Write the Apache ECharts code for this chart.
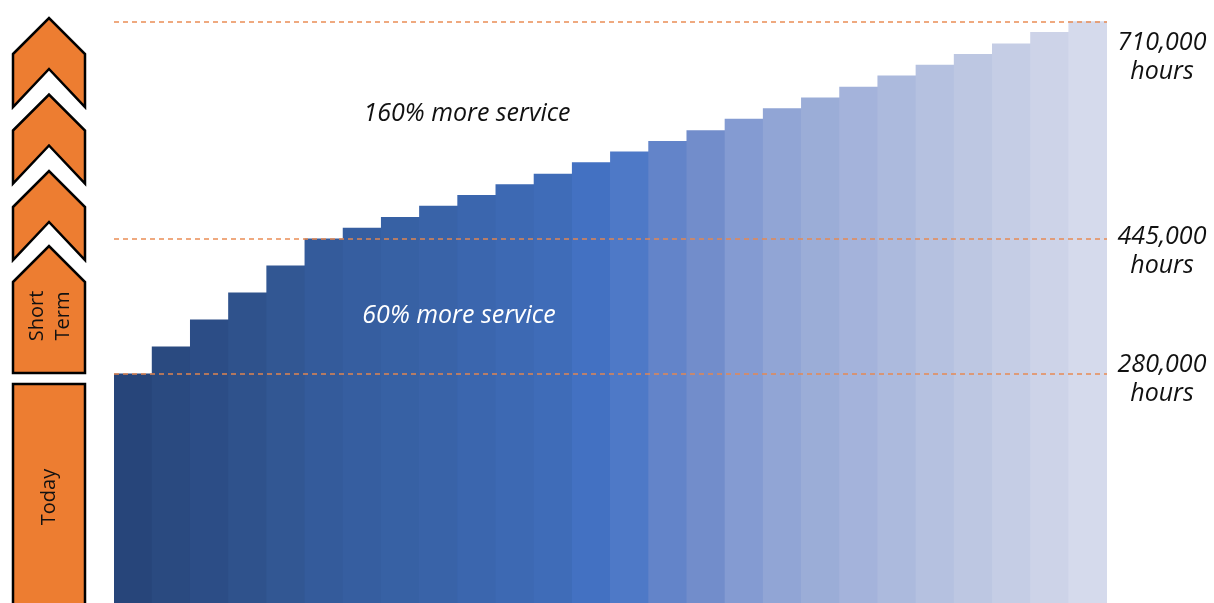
<!DOCTYPE html>
<html>
<head>
<meta charset="utf-8">
<script src="https://cdn.jsdelivr.net/npm/echarts@6/dist/echarts.min.js"></script>
<style>
  html, body { margin: 0; padding: 0; background: #ffffff; }
  #chart { width: 1214px; height: 603px; }
</style>
</head>
<body>
<div id="chart"></div>
<script>
// Service growth, one bar per step, from today to the long-term target
const periods = ['1', '2', '3', '4', '5', '6', '7', '8', '9', '10', '11', '12', '13',
                 '14', '15', '16', '17', '18', '19', '20', '21', '22', '23', '24', '25', '26'];
const serviceHours = [280000, 313000, 346000, 379000, 412000, 445000,
                      458000, 471000, 485000, 498000, 511000, 524000, 538000,
                      551000, 564000, 577000, 591000, 604000, 617000, 630000,
                      644000, 657000, 670000, 683000, 697000, 710000];

// Milestones marked with dashed lines and captions on the right
const milestoneHours = [280000, 445000, 710000];
const milestoneLabels = ['280,000\nhours', '445,000\nhours', '710,000\nhours'];

// Captions inside the chart
const growthNotes = ['60% more service', '160% more service'];
const phaseLabels = ['Today', 'Short\nTerm'];

// Bar fill, dark navy through blue to pale lavender
const barColors = ['#27457A', '#2A4A80', '#2C4D86', '#2F528C', '#325793', '#345B9B',
                   '#365EA0', '#3761A4', '#3963A8', '#3B66AE', '#3D69B3', '#3F6CB8',
                   '#4371C2', '#4E79C7', '#6384C9', '#728DCB', '#849BD2', '#91A5D5',
                   '#9BADD7', '#A4B3DB', '#ACBADD', '#B5C1E0', '#BDC7E2', '#C5CDE5',
                   '#CDD3E8', '#D5DAEC'];

const ORANGE = '#ED7D31';
const TEXT = '#111111';
const FONT = '"Open Sans", "Noto Sans", sans-serif';

const chart = echarts.init(document.getElementById('chart'), null, { renderer: 'canvas' });

chart.setOption({
  animation: false,
  backgroundColor: '#ffffff',
  grid: { left: 114, right: 107, top: 0, bottom: -7 },
  xAxis: { type: 'category', data: periods, show: false, boundaryGap: true },
  yAxis: { type: 'value', min: 0, max: 736000, show: false, splitLine: { show: false } },
  series: [{
    type: 'bar',
    data: serviceHours.map((v, i) => ({ value: v, itemStyle: { color: barColors[i] } })),
    // slightly wider than a category band so neighbouring bars overlap and leave no seam
    barWidth: 39,
    silent: true,
    markLine: {
      silent: true,
      symbol: 'none',
      label: { show: false },
      lineStyle: { color: '#E9874C', width: 1.5, type: [5, 4], opacity: 0.95 },
      data: milestoneHours.map(v => ({ yAxis: v }))
    }
  }]
});

// Phase markers on the left: three chevrons, the short-term arrow and the "today" block
function chevron(top) {
  return {
    type: 'polygon', z: 100,
    shape: { points: [[13, top + 36], [49, top], [85, top + 36], [85, top + 89], [49, top + 51], [13, top + 89]] },
    style: { fill: ORANGE, stroke: '#000', lineWidth: 2.5 }
  };
}

const graphics = [
  chevron(18), chevron(94.5), chevron(171),
  {
    type: 'polygon', z: 100,
    shape: { points: [[13, 282], [49, 246], [85, 282], [85, 373], [13, 373]] },
    style: { fill: ORANGE, stroke: '#000', lineWidth: 2.5 }
  },
  {
    type: 'rect', z: 100,
    shape: { x: 13, y: 384, width: 72, height: 240 },
    style: { fill: ORANGE, stroke: '#000', lineWidth: 2.5 }
  },
  {
    type: 'text', z: 101, x: 49, y: 497, rotation: Math.PI / 2,
    style: { text: phaseLabels[0], fill: TEXT, fontSize: 20, fontFamily: FONT, align: 'center', verticalAlign: 'middle' }
  },
  {
    type: 'text', z: 101, x: 50, y: 316, rotation: Math.PI / 2,
    style: { text: phaseLabels[1], fill: TEXT, fontSize: 20, lineHeight: 26, fontFamily: FONT, align: 'center', verticalAlign: 'middle' }
  },
  {
    type: 'text', z: 101, x: 459, y: 316,
    style: { text: growthNotes[0], fill: '#ffffff', fontSize: 25, fontStyle: 'italic', fontFamily: FONT, align: 'center', verticalAlign: 'middle' }
  },
  {
    type: 'text', z: 101, x: 467, y: 114,
    style: { text: growthNotes[1], fill: TEXT, fontSize: 25, fontStyle: 'italic', fontFamily: FONT, align: 'center', verticalAlign: 'middle' }
  }
];

// Milestone captions sit beside their dashed line
const captionShift = [6, 13, 36];
milestoneHours.forEach((v, i) => {
  const y = chart.convertToPixel({ yAxisIndex: 0 }, v);
  graphics.push({
    type: 'text', z: 101, x: 1162, y: y + captionShift[i],
    style: { text: milestoneLabels[i], fill: TEXT, fontSize: 25, lineHeight: 29, fontStyle: 'italic', fontFamily: FONT, align: 'center', verticalAlign: 'middle' }
  });
});

chart.setOption({ graphic: graphics });
</script>
</body>
</html>
